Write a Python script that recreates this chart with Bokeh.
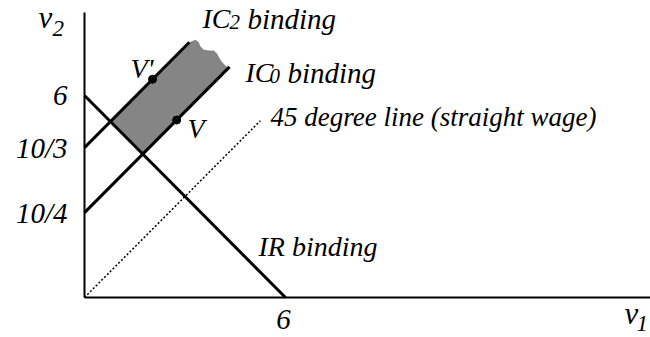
from bokeh.plotting import figure
from bokeh.embed import file_html
from bokeh.resources import INLINE
from bokeh.core.properties import value

# ---- data (schematic units) ----
ir_x = [0, 6]
ir_y = [6, 0]
ic2_intercept = 4.45      # labelled 10/3
ic2_end_x = 3.13
ic0_intercept = 2.52      # labelled 10/4
ic0_end_x = 4.33
diag_end_x = 5.25
vprime_pt = (2.03, 6.48)
v_pt = (2.75, 5.27)
ytick_vals = [6, 4.45, 2.52]
ytick_labels = ["6", "10/3", "10/4"]
xtick_vals = [6]
xtick_labels = ["6"]
# wavy upper edge of the shaded region (between IC2 end and IC0 end)
wave_x = [3.313, 3.412, 3.463, 3.561, 3.710, 3.860, 3.961, 4.039, 4.110, 4.260]
wave_y = [7.654, 7.582, 7.455, 7.357, 7.336, 7.336, 7.238, 7.089, 6.988, 6.840]

# ---- layout ----
W, H = 650, 337
SX, SY = 33.5, 33.67
OX, OY = 84, 297  # canvas px of origin
TDY = 9           # text baseline correction (px)

p = figure(width=W, height=H, output_backend="svg", toolbar_location=None,
           x_range=(-OX / SX, (W - OX) / SX), y_range=(-(H - OY) / SY, OY / SY),
           x_axis_type=None, y_axis_type=None, min_border=0)
p.outline_line_color = None
p.grid.visible = False

def P(rx, ry):
    # reference pixel (text baseline) -> data
    return ((rx - OX) / SX, (OY - ry + TDY) / SY)

# shaded region
ax = (ir_y[0] - ic2_intercept) / 2
bx = (ir_y[0] - ic0_intercept) / 2
poly_x = [ax, ic2_end_x] + wave_x + [ic0_end_x, bx]
poly_y = [ic2_intercept + ax, ic2_intercept + ic2_end_x] + wave_y + \
         [ic0_intercept + ic0_end_x, ic0_intercept + bx]
p.patch(poly_x, poly_y, fill_color="#858585", line_color=None)

# axes
ytop = (OY - 12) / SY
xright = (W - OX) / SX
p.line([0, 0], [0, ytop], line_color="black", line_width=2)
p.line([0, xright], [0, 0], line_color="black", line_width=2)

# 45 degree line
p.line([0, diag_end_x], [0, diag_end_x], line_color="black", line_width=1.5,
       line_dash="2 2")

# IR, IC lines
p.line(ir_x, ir_y, line_color="black", line_width=3)
p.line([0, ic2_end_x], [ic2_intercept, ic2_intercept + ic2_end_x],
       line_color="black", line_width=3)
p.line([0, ic0_end_x], [ic0_intercept, ic0_intercept + ic0_end_x],
       line_color="black", line_width=3)

# points
p.scatter([vprime_pt[0], v_pt[0]], [vprime_pt[1], v_pt[1]], size=8,
          fill_color="black", line_color="black")

FONT = value("Liberation Serif")

def txt(x, y, s, size, align="left"):
    p.text([x], [y], text=[s], text_font=FONT, text_font_style="italic",
           text_font_size=size, text_align=align, text_baseline="alphabetic",
           text_color="black")

# tick labels
for v, lab in zip(ytick_vals, ytick_labels):
    txt(P(67, 0)[0], v + (TDY - 9) / SY, lab, "29px", "right")
for v, lab in zip(xtick_vals, xtick_labels):
    txt(v - 0.06, (TDY - 31) / SY, lab, "29px", "center")

# axis titles
x, y = P(38, 26); txt(x, y, "v", "31px")
x, y = P(52, 37); txt(x, y, "2", "23px")
x, y = P(624, 322); txt(x, y, "v", "31px")
x, y = P(636, 332); txt(x, y, "1", "23px")

# line labels
x, y = P(202, 27); txt(x, y, "IC", "28px")
x, y = P(229, 30); txt(x, y, "2", "21px")
x, y = P(247, 27); txt(x, y, "binding", "29px")

x, y = P(245, 81); txt(x, y, "IC", "28px")
x, y = P(269, 84); txt(x, y, "0", "21px")
x, y = P(287, 81); txt(x, y, "binding", "29px")

x, y = P(270, 125); txt(x, y, "45 degree line (straight wage)", "27px")
x, y = P(258, 255); txt(x, y, "IR binding", "28px")
x, y = P(130, 77); txt(x, y, "V'", "28px")
x, y = P(187, 137); txt(x, y, "V", "28px")

open("out.html", "w").write(file_html(p, INLINE))
